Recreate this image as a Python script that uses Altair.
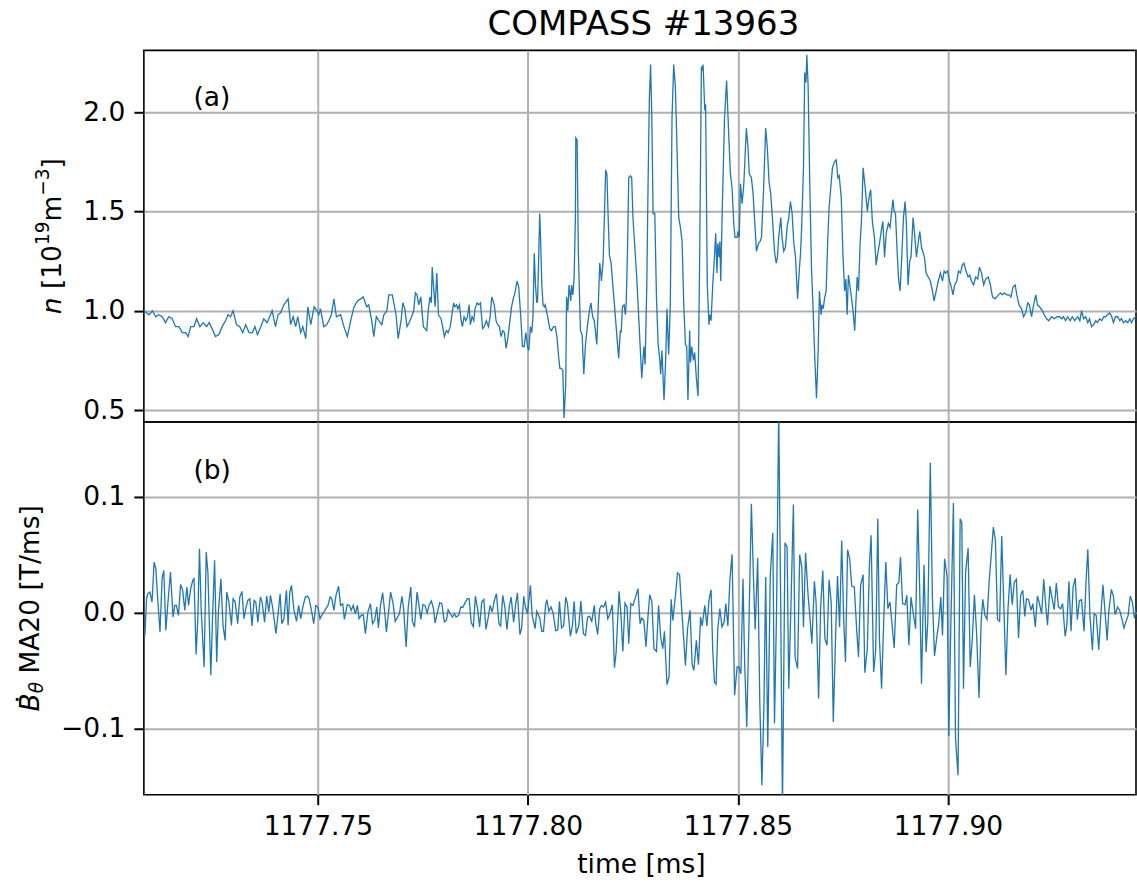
import altair as alt
import pandas as pd

# ---------------------------------------------------------------------------
# Signals, time in microseconds after 1177.70 ms
# ---------------------------------------------------------------------------
# (a) line-integrated density n [1e19 m^-3]
N_TIME_US = [
    8.6, 9.8, 10.6, 11.4, 12.1, 12.9, 13.7, 14.5, 15.3, 16.1, 16.9, 17.7, 18.5, 19.1, 19.7,
    20.5, 21.1, 21.9, 22.7, 23.5, 24.1, 24.8, 25.6, 26.4, 27.2, 28.0, 28.6, 29.2, 29.8, 30.6,
    31.4, 32.1, 32.8, 33.6, 34.4, 35.0, 35.6, 36.4, 37.1, 37.9, 38.7, 39.1, 39.9, 40.5, 41.1,
    41.9, 42.9, 43.5, 44.1, 44.7, 45.2, 45.9, 46.4, 47.1, 47.6, 48.3, 49.1, 49.8, 50.2, 50.6,
    51.4, 52.1, 52.6, 53.2, 53.8, 54.4, 55.4, 56.2, 57.0, 57.8, 58.6, 59.4, 60.2, 60.8, 61.6,
    62.1, 62.8, 63.3, 63.9, 64.5, 65.2, 65.7, 66.4, 66.9, 67.7,
    68.6, 69.1, 69.8, 70.2, 70.7, 71.2, 71.7, 72.3, 72.8, 73.2, 73.6, 74.0, 74.5, 75.1, 75.5,
    75.9, 76.3, 76.7, 77.0, 77.2, 77.5, 77.9, 78.3, 78.7, 79.3, 79.7, 80.1, 80.6, 81.0, 81.5,
    81.9, 82.3, 82.6, 83.0, 83.3, 83.7, 84.1, 84.4, 84.8, 85.2, 85.6, 86.0, 86.3, 86.7, 87.1,
    87.4, 87.9, 88.3, 88.7, 89.2, 89.6, 90.1, 90.6, 91.0, 91.4, 92.0, 92.4, 92.8, 93.2, 93.6,
    94.0, 94.4, 94.8, 95.2, 95.6, 96.1, 96.5, 96.9, 97.4, 97.8, 98.3, 98.7, 99.1, 99.5, 99.9,
    100.2, 100.6, 100.9, 101.2, 101.5, 101.8, 102.1, 102.3, 102.5, 102.8, 103.0, 103.3, 103.6,
    103.9, 104.1, 104.7, 105.2, 105.6, 106.1, 106.5, 106.9, 107.3, 107.6, 108.0, 108.3, 108.6,
    109.0, 109.2, 109.5, 109.8, 110.2, 110.4, 110.7, 111.0, 111.3, 111.4, 111.7, 112.0, 112.5,
    112.9, 113.3, 113.7, 114.2, 114.7, 115.0, 115.4, 115.8, 116.2, 116.4, 116.7, 117.1, 117.3,
    117.5, 117.9, 118.2, 118.5, 118.8, 119.1, 119.4, 119.8, 120.2, 120.6, 121.0, 121.6, 122.0,
    122.2, 122.5, 122.9, 123.2, 123.4, 123.7, 124.0, 124.4, 124.7, 125.0, 125.5, 125.9,
    126.6, 127.1, 127.6, 127.9, 128.3, 128.6, 128.9, 129.2, 129.5, 129.8, 130.2, 130.6, 131.0,
    131.4, 131.6, 131.9, 132.4, 132.8, 133.1, 133.5, 133.9, 134.3, 134.7, 135.1, 135.5, 135.9,
    136.3, 136.7, 137.1, 137.5, 137.8, 138.1, 138.5, 138.7, 139.0, 139.4, 139.7, 140.1, 140.5,
    140.9, 141.3, 141.5, 141.7, 142.1, 142.3, 142.7, 143.1, 143.3, 143.6, 144.0, 144.4, 144.7,
    145.0, 145.2, 145.5, 145.7, 145.9, 146.3, 146.8, 147.3, 147.8, 148.2, 148.6, 149.0, 149.3,
    149.8, 150.0, 150.3, 150.6, 151.0, 151.4, 152.0, 152.4, 152.7, 153.2, 153.6, 154.0, 154.4,
    154.9, 155.3, 155.6, 156.1, 156.6, 157.0, 157.4, 157.8, 158.3, 158.7, 159.1, 159.4, 159.7,
    160.2, 160.5, 160.9, 161.3, 161.7, 162.1, 162.5, 162.9, 163.3, 163.7, 164.2, 164.6, 164.9,
    165.2, 165.6, 165.9, 166.2, 166.4, 166.7, 167.1, 167.5, 167.9, 168.3, 168.7, 169.1, 169.4,
    169.8, 170.0, 170.3, 170.6, 171.0, 171.4, 171.7, 172.1, 172.5, 173.0, 173.4, 173.8, 174.1,
    174.6, 175.0, 175.4, 175.7, 176.0, 176.3, 176.7, 177.0, 177.4, 177.8, 178.1, 178.4, 178.7,
    179.1, 179.4, 179.8, 180.2, 180.5, 180.8, 181.2, 181.6, 182.0, 182.5, 182.9, 183.3, 183.7,
    184.1, 184.5, 184.9, 185.3,
    185.8, 186.2, 186.6, 186.9, 187.2, 187.5, 187.9, 188.2, 188.6, 189.0, 189.4, 189.8, 190.1,
    190.5, 190.9, 191.2, 191.7, 192.0, 192.5, 192.9, 193.3, 193.7, 194.4, 194.8, 195.3, 195.8,
    196.3, 196.7, 197.2, 197.7, 198.2, 198.7, 199.1, 199.4, 199.9, 200.4, 200.8, 201.2, 201.6,
    202.1, 202.5, 203.0, 203.4, 203.8, 204.3, 204.8, 205.2, 205.6, 206.1, 206.6, 207.1, 207.5,
    208.0, 208.5, 209.0, 209.6, 210.1, 210.6, 211.2, 212.0, 212.5, 212.9, 213.4, 214.0, 214.5,
    215.0, 215.5, 216.0, 216.4, 216.9, 217.5, 218.0, 218.5, 219.0, 219.4, 219.9, 220.4, 220.9,
    221.3, 221.8, 222.5, 222.9, 223.5, 224.0, 224.7, 225.3, 226.0, 226.6, 227.1, 227.5, 228.0,
    228.5, 229.1, 229.6, 230.2, 230.9, 231.4, 231.8, 232.3, 232.8, 233.3, 233.7, 234.2, 234.7,
    235.2, 235.6, 236.1, 236.6, 237.1, 237.5, 238.0, 238.5, 239.0, 239.4, 239.9, 240.4, 240.9,
    241.3, 241.8, 242.3, 242.8, 243.3, 243.7, 244.2, 244.7, 245.2,
]
N_VALUE = [
    1.00, 0.98, 1.00, 0.97, 0.98, 0.97, 0.94, 0.97, 0.96, 0.92, 0.92, 0.89, 0.89, 0.87, 0.92,
    0.92, 0.96, 0.92, 0.94, 0.92, 0.94, 0.91, 0.87, 0.88, 0.92, 0.95, 0.98, 0.97, 1.00, 0.93,
    0.92, 0.89, 0.93, 0.89, 0.89, 0.92, 0.88, 0.92, 0.96, 0.94, 0.98, 1.00, 0.92, 0.98, 0.99,
    1.03, 1.06, 0.93, 0.97, 0.92, 0.97, 0.89, 0.92, 0.86, 1.02, 0.93, 1.02, 1.00, 0.98, 1.01,
    0.92, 0.93, 0.95, 0.98, 1.06, 0.97, 0.98, 0.92, 0.87, 0.95, 1.02, 1.05, 1.06, 1.07, 1.02,
    1.03, 0.95, 0.87, 0.97, 0.95, 0.93, 0.98, 1.00, 1.08, 1.08,
    0.98, 0.86, 0.95, 1.04, 1.01, 0.92, 0.94, 0.97, 1.00, 1.09, 1.08, 1.03, 1.07, 0.92, 0.91,
    0.90, 1.01, 1.07, 1.04, 1.22, 1.13, 1.02, 1.19, 0.98, 0.96, 0.92, 0.87, 0.90, 0.89, 0.92,
    0.98, 1.04, 1.02, 1.03, 1.01, 1.03, 0.95, 0.92, 0.97, 0.95, 0.97, 1.03, 0.93, 0.97, 0.95,
    1.01, 1.04, 1.03, 1.04, 0.91, 0.92, 0.95, 0.92, 0.97, 1.07, 1.03, 0.95, 0.93, 0.92, 0.87,
    0.90, 0.89, 0.81, 0.86, 0.93, 1.02, 1.06, 1.09, 1.15, 1.12, 0.97, 0.82, 0.82, 0.89, 0.82,
    0.80, 0.92, 0.89, 0.97, 1.29, 1.13, 1.04, 1.05, 1.22, 1.49, 1.37, 1.13, 1.03,
    1.02, 1.03, 0.97, 0.91, 0.90, 0.92, 0.92, 0.87, 0.77, 0.71, 0.71, 0.70, 0.46,
    0.63, 1.07, 1.00, 1.13, 1.05, 1.13, 1.08, 1.17, 1.47, 1.87, 1.86, 1.30, 0.90,
    0.88, 0.68, 0.83, 0.93, 1.01, 1.04, 0.97, 0.95, 0.87, 0.83, 1.00, 1.24, 1.20,
    1.15, 1.25, 1.47, 1.71, 1.69, 1.47, 1.28, 1.24, 1.13, 1.03, 0.92, 0.76, 0.90,
    0.89, 1.02, 1.03, 0.98, 1.04, 1.30, 1.67, 1.68, 1.67, 1.47, 1.30, 1.17,
    0.87, 0.66, 0.82, 0.73, 1.13, 1.64, 2.06, 2.24, 1.97, 1.49, 1.49, 1.07, 0.83,
    0.75, 0.68, 0.80, 0.55, 0.76, 1.01, 0.78, 1.03, 1.97, 2.24, 2.13, 1.81, 1.47,
    1.42, 1.35, 1.03, 0.83, 0.82, 0.55, 0.90, 0.74, 0.82, 0.75, 0.79, 0.66, 0.57,
    1.30, 2.23, 2.21, 2.24, 2.01, 2.04, 1.13, 0.93, 0.98, 0.95, 1.13, 1.27, 1.39,
    1.19, 1.34, 1.27, 1.35, 1.15, 1.54, 1.97, 2.16, 1.89, 1.69, 1.62, 1.44, 1.37,
    1.37, 1.40, 1.37, 1.64, 1.54, 1.64, 1.92, 1.82, 1.69, 1.67, 1.59, 1.45, 1.30,
    1.34, 1.35, 1.37, 1.61, 1.92, 1.82, 1.65, 1.59, 1.44, 1.30, 1.24, 1.27, 1.37,
    1.47, 1.37, 1.30, 1.32, 1.42, 1.47, 1.55, 1.49, 1.34, 1.27, 1.06, 1.20, 1.29,
    1.44, 1.72, 2.20, 2.15, 2.29, 2.14, 1.64, 1.22, 1.00, 0.76, 0.56, 0.80, 1.10,
    0.98, 1.03, 1.01, 1.06, 1.10, 1.37, 1.52, 1.62, 1.72, 1.75, 1.76, 1.67, 1.68,
    1.57, 1.28, 1.10, 1.16, 0.98, 1.18, 1.12, 1.07, 1.00, 0.90, 1.05, 1.17, 1.10,
    1.35, 1.45, 1.72, 1.64, 1.57, 1.50, 1.57, 1.61, 1.45, 1.37, 1.23, 1.29, 1.34,
    1.40, 1.45, 1.27, 1.39,
    1.44, 1.42, 1.50, 1.56, 1.50, 1.49, 1.30, 1.17, 1.10, 1.27, 1.47, 1.55, 1.44,
    1.13, 1.25, 1.27, 1.47, 1.40, 1.27, 1.34, 1.40, 1.32, 1.27, 1.19, 1.17, 1.15,
    1.10, 1.05, 1.10, 1.15, 1.19, 1.15, 1.20, 1.19, 1.20, 1.15, 1.12, 1.08, 1.13,
    1.15, 1.20, 1.19, 1.23, 1.24, 1.20, 1.17, 1.18, 1.15, 1.13, 1.17, 1.16, 1.22,
    1.19, 1.13, 1.16, 1.17, 1.13, 1.07, 1.06, 1.08, 1.09, 1.08, 1.09, 1.08, 1.08,
    1.07, 1.12, 1.13, 1.08, 1.03, 1.01, 0.97, 0.99, 1.04, 1.03, 0.97, 1.03, 1.08,
    1.03, 1.02, 1.00, 0.98, 0.96, 0.95, 0.97, 0.96, 0.97, 0.97, 0.96, 0.97, 0.95,
    0.97, 0.95, 0.97, 0.95, 0.97, 0.95, 1.00, 0.96, 0.97, 0.94, 0.96, 0.92, 0.93,
    0.95, 0.94, 0.96, 0.95, 0.97, 0.97, 0.98, 0.99, 0.97, 0.94, 0.97, 0.97, 0.95,
    0.96, 0.94, 0.95, 0.94, 0.96, 0.94, 0.96, 0.97, 0.98,
]

# (b) poloidal field derivative, probe MA20 [T/ms]
B_TIME_US = [
    8.8, 9.2, 9.5, 10.0, 10.5, 11.0, 11.4, 11.9, 12.4, 12.9, 13.3, 13.8, 14.3, 14.9, 15.5,
    15.9, 16.3, 16.8, 17.3, 17.8, 18.3, 18.8, 19.2, 19.7, 20.2, 20.5, 21.0, 21.4, 21.8, 22.2,
    22.9, 23.4, 23.8, 24.5, 24.9, 25.4, 25.9, 26.3, 26.9, 27.4, 27.9, 28.3, 28.8, 29.4, 29.8,
    30.3, 30.9, 31.4, 31.9, 32.4, 32.9, 33.3, 33.8, 34.3, 34.8, 35.2, 35.7, 36.3, 36.7, 37.3,
    37.8, 38.3, 38.7, 39.2, 40.0, 40.6, 41.0, 41.4, 41.9, 42.5, 42.9, 43.3, 43.7, 44.3, 44.9,
    45.4, 45.9, 46.4, 47.0, 47.5, 47.9, 48.5, 49.0, 49.5, 50.0, 50.5, 50.9, 51.4, 51.9, 52.4,
    52.9, 53.3, 53.8, 54.3, 54.9, 55.4, 55.9, 56.3, 57.0, 57.5, 57.9, 58.4, 58.9, 59.4, 59.8,
    60.3, 60.8, 61.3, 61.9, 62.5, 63.0, 63.5, 64.0, 64.4, 64.9, 65.4, 65.9, 66.3, 66.9, 67.3,
    67.9, 68.4, 69.0, 69.4, 70.0, 70.4, 71.0, 71.5, 72.1, 72.5, 73.0, 73.6, 74.0, 74.5, 75.0,
    75.5, 76.0, 76.5, 77.0, 77.5, 77.9, 78.5, 79.0, 79.5, 80.1, 80.6, 81.0, 81.5, 82.0, 82.5,
    82.9, 83.5, 84.0, 84.5, 85.0, 85.6, 86.0, 86.5, 87.0, 87.5, 88.0, 88.5, 89.0, 89.5, 90.0,
    90.5, 91.0, 91.5, 92.0, 92.5, 93.1, 93.5, 94.0, 94.5, 95.0, 95.6, 96.0, 96.6, 97.1, 97.5,
    98.1, 98.5, 99.0, 99.4, 99.9, 100.6, 101.0, 101.7, 102.1, 102.8, 103.3, 103.7, 104.2,
    104.5, 105.0, 105.5, 106.0, 106.6, 107.1, 107.5, 108.0, 108.5, 109.0, 109.4, 110.1, 110.6,
    111.0, 111.5, 112.1, 112.6, 113.2, 113.7, 114.2, 114.7, 115.2, 115.8, 116.1, 116.6, 117.1,
    117.5, 118.0, 118.5, 119.0, 119.4, 120.1, 120.6, 121.0, 121.7, 122.1, 122.6, 123.1, 123.6,
    124.0, 124.5, 125.0, 125.6,
    126.2, 126.7, 127.1, 127.6, 128.1, 128.6, 129.0, 129.5, 130.0, 130.6, 131.1, 131.6, 132.1,
    132.5, 133.1, 133.6, 134.1, 134.5, 135.2, 135.6, 136.1, 136.6, 137.1, 137.5, 138.0, 138.6,
    139.1, 139.5, 140.1, 140.6, 141.1, 141.5, 142.1, 142.6, 143.1, 143.6, 144.0, 144.4, 144.8,
    145.2, 145.7, 146.2, 146.7, 147.1, 147.6, 148.1, 148.6, 149.2, 149.8, 150.2, 150.7, 151.2,
    151.6, 152.1, 152.6, 153.2, 153.7, 154.1, 154.7, 155.2, 155.7, 156.2, 156.6, 157.1, 157.7,
    158.3, 158.7, 159.2, 159.7, 160.2, 160.6, 161.2, 161.7, 162.1, 162.6, 163.2, 163.6, 164.2,
    164.7, 165.2, 165.6, 166.1, 166.7, 167.1, 167.6, 168.2, 168.6, 169.2, 169.7, 170.2, 170.7,
    171.2, 171.7, 172.2, 172.7, 173.3, 173.7, 174.2, 174.7, 175.2, 175.6, 176.1, 176.6, 177.1,
    177.7, 178.3, 178.7, 179.2, 179.8, 180.2, 180.8, 181.3, 181.7, 182.3, 182.8, 183.3, 183.7,
    184.2, 184.8, 185.2, 185.7,
    186.2, 186.7, 187.2, 187.8, 188.3, 188.7, 189.2, 189.8, 190.2, 190.7, 191.2, 191.7, 192.3,
    192.8, 193.3, 193.7, 194.3, 194.8, 195.2, 195.8, 196.3, 196.8, 197.3, 197.8, 198.3, 198.7,
    199.2, 199.8, 200.2, 200.7, 201.3, 201.8, 202.4, 202.9, 203.3, 203.7, 204.2, 204.8, 205.3,
    205.8, 206.3, 206.8, 207.4, 207.9, 208.3, 208.8, 209.3, 209.8, 210.3, 210.8, 211.3, 211.8,
    212.3, 212.8, 213.3, 213.8, 214.3, 214.8, 215.3, 215.8, 216.3, 216.8, 217.3, 217.8, 218.3,
    218.7, 219.2, 219.8, 220.2, 220.8, 221.3, 221.7, 222.3, 222.8, 223.3, 223.7, 224.3, 224.8,
    225.3, 225.8, 226.3, 226.8, 227.3, 227.9, 228.3, 228.8, 229.3, 229.8, 230.3, 230.8, 231.3,
    231.8, 232.4, 232.9, 233.3, 233.8, 234.4, 234.8, 235.3, 235.9, 236.4, 236.9, 237.4, 237.9,
    238.3, 238.9, 239.4, 239.8, 240.4, 240.9, 241.4, 241.9, 242.4, 242.9, 243.4, 243.9, 244.4,
    244.8, 245.2,
]
B_VALUE = [
    -0.0196, 0.0121, 0.0164, 0.0178, 0.0092, 0.0437, 0.0380, 0.0092, -0.0167, 0.0294, 0.0365,
    -0.0153, 0.0092, 0.0351, -0.0037, 0.0063, 0.0063, -0.0023, 0.0245, 0.0193, 0.0020, 0.0222,
    0.0063, 0.0207, 0.0279, 0.0294, -0.0360, -0.0052, 0.0553, 0.0035, -0.0469, 0.0524, 0.0351,
    -0.0541, -0.0052, 0.0452, -0.0426, 0.0006, 0.0294, -0.0109, -0.0239, 0.0178, 0.0092,
    -0.0109, 0.0121, 0.0092, -0.0095, 0.0135, 0.0184, -0.0052, 0.0049, 0.0106, 0.0121, -0.0115,
    0.0106, 0.0092, -0.0081, 0.0135, 0.0092, -0.0081, 0.0144, 0.0006, 0.0150, 0.0049, -0.0181,
    0.0020, 0.0164, -0.0095, -0.0052, 0.0193, -0.0109, 0.0178, 0.0236, 0.0020, -0.0075, 0.0063,
    -0.0052, 0.0049, 0.0135, 0.0144, 0.0121, 0.0012, -0.0095, 0.0063, 0.0049, -0.0052, -0.0023,
    0.0006, 0.0035, 0.0063, 0.0135, 0.0121, 0.0020, 0.0150, 0.0230, 0.0063, 0.0078, -0.0058,
    0.0069, 0.0063, 0.0020, 0.0063, -0.0009, 0.0063, -0.0052, -0.0023, -0.0017, -0.0181, 0.0006,
    0.0078, -0.0095, -0.0066, 0.0049, -0.0132, 0.0063, 0.0173, 0.0006, -0.0167, 0.0035, 0.0178,
    0.0078, -0.0075, -0.0037, -0.0009, 0.0141, 0.0035, -0.0296, 0.0049, 0.0222, -0.0075,
    -0.0124, 0.0178, 0.0078, -0.0058, 0.0069, 0.0063, -0.0003, 0.0069, 0.0101, 0.0035, -0.0089,
    0.0012, 0.0086, 0.0078, -0.0081, -0.0066, 0.0026, -0.0009, -0.0037, -0.0009, -0.0037,
    -0.0023, 0.0049, 0.0046, 0.0083, 0.0121, 0.0121, -0.0086, -0.0121, 0.0144, 0.0035, -0.0124,
    0.0092, 0.0115, -0.0144, -0.0052, 0.0063, 0.0006, 0.0106, 0.0164, -0.0095, -0.0115, 0.0150,
    0.0049, -0.0144, 0.0063, 0.0135, -0.0081, 0.0078, 0.0170, -0.0190, -0.0132, 0.0141, 0.0049,
    -0.0009, 0.0236, -0.0023, -0.0138, 0.0012, -0.0046, -0.0161, -0.0161, 0.0063, 0.0112,
    0.0012, 0.0049, -0.0003, -0.0155, -0.0150, 0.0098, -0.0132, -0.0115, 0.0135, 0.0078,
    -0.0204, -0.0109, 0.0098, -0.0181, -0.0115, 0.0101, -0.0181, -0.0196, -0.0037, -0.0032,
    -0.0075, 0.0063, -0.0081, -0.0187, 0.0035, 0.0063, 0.0049, 0.0092, -0.0052, -0.0023, 0.0069,
    -0.0475, -0.0340, 0.0184, 0.0006, -0.0334, 0.0083, 0.0049, -0.0268, 0.0078, 0.0063, 0.0135,
    0.0207, -0.0095, -0.0046, -0.0066, -0.0296, -0.0023, 0.0155, 0.0098, -0.0311, -0.0334,
    0.0063, -0.0210, -0.0311, -0.0161, -0.0622, -0.0555, 0.0115, -0.0066, 0.0178, 0.0345,
    0.0328, 0.0035, -0.0239, -0.0455, -0.0138, 0.0020, -0.0449, -0.0498, -0.0239, -0.0449,
    -0.0037, -0.0115, 0.0063, -0.0115, 0.0106, 0.0199, -0.0325, -0.0599, -0.0619, -0.0138,
    0.0035, -0.0124, -0.0081, 0.0078, -0.0115, 0.0294, 0.0504, -0.0714, -0.0469, -0.0469,
    -0.0527, 0.0294, -0.0440, -0.0987, -0.0138, 0.0941, 0.0294, -0.0144, 0.0472, -0.0771,
    -0.1491, -0.0771, 0.0308, -0.1160, 0.0322, 0.0691, -0.0958, 0.0035, 0.1750, -0.0023,
    -0.1700, 0.0604, 0.0567, -0.0656, 0.0035, 0.0935, -0.0383, -0.0483, 0.0501, 0.0394,
    -0.0124, 0.0518, 0.0150, -0.0023, -0.0268, 0.0271, 0.0092, -0.0742, 0.0049, 0.0365,
    -0.0224, -0.0282, 0.0285, 0.0092, -0.0944, -0.0138, 0.0317, -0.0124, 0.0624, -0.0081,
    -0.0426, 0.0544, 0.0466, 0.0230, 0.0222, -0.0167, -0.0383, 0.0236, 0.0328, -0.0518,
    -0.0311, 0.0409, 0.0668, -0.0512, -0.0325, 0.0812, -0.0239, -0.0656, 0.0035, 0.0437, 0.0035,
    0.0092, -0.0109, -0.0305, 0.0242, 0.0259, 0.0481, 0.0078, 0.0069, 0.0150, -0.0282, 0.0135,
    0.0006, -0.0138, 0.0892, 0.0150, -0.0613, 0.0414, -0.0340, -0.0081, 0.1295, 0.0121,
    -0.0374, -0.0224, -0.0095, 0.0135, -0.0196, 0.0466, 0.0308, -0.1065, -0.0081, 0.0947,
    -0.1088, -0.1405, 0.0812, 0.0777, -0.0656, 0.0351, 0.0558, -0.0469, -0.0224, 0.0155,
    -0.0167, -0.0737, -0.0081, 0.0115, -0.0023, -0.0058, 0.0265, 0.0495, 0.0740, 0.0624,
    -0.0058, -0.0075, 0.0662, 0.0063, -0.0541, 0.0035, 0.0331, 0.0069, 0.0265, 0.0288, -0.0219,
    0.0150, 0.0193, -0.0032, 0.0121, 0.0112, 0.0020, 0.0078, -0.0124, 0.0144, 0.0092, -0.0009,
    0.0288, 0.0058, -0.0109, 0.0230, 0.0121, 0.0026, 0.0256, 0.0049, 0.0035, 0.0078, -0.0204,
    -0.0109, 0.0271, -0.0161, 0.0222, 0.0299, -0.0060, 0.0106, 0.0112, -0.0161, 0.0294, 0.0547,
    -0.0023, -0.0325, -0.0009, -0.0023, -0.0319, -0.0017, 0.0242, 0.0006, -0.0239, 0.0012,
    0.0201, 0.0141, -0.0017, 0.0049, 0.0020, -0.0052, -0.0132, -0.0075, -0.0023, 0.0144, 0.0092,
    -0.0046, 0.0026, 0.0049,
]

T0_MS = 1177.70
X_TICKS = [1177.75, 1177.80, 1177.85, 1177.90]
X_DOMAIN = [1177.70856, 1177.94477]
N_TICKS = [0.5, 1.0, 1.5, 2.0]
N_DOMAIN = [0.4396, 2.312]
B_TICKS = [-0.1, 0.0, 0.1]
B_DOMAIN = [-0.15723, 0.16474]

TITLE = "COMPASS #13963"
X_TITLE = "time [ms]"

# ---------------------------------------------------------------------------
# Styling
# ---------------------------------------------------------------------------
FONT = "DejaVu Sans"
FS = 26.5          # axis / annotation text
FS_TITLE = 34
FS_SCRIPT = 0.7 * FS
BLUE = "#1f77b4"
GRID = "#b0b0b0"
W = 993
H_TOP = 372
H_BOT = 373

# DejaVu Sans advance widths (em) used to lay out the composite axis titles
ADV = {"n": 0.634, "m": 0.974, " ": 0.318, "[": 0.390, "]": 0.390, "0": 0.636,
       "1": 0.636, "2": 0.636, "3": 0.636, "9": 0.636, "\u2212": 0.838, "B": 0.686,
       "\u03b8": 0.612, "M": 0.863, "A": 0.684, "T": 0.611, "/": 0.337, "s": 0.521}


def advance(s, size):
    return sum(ADV[c] for c in s) * size


def text_layer(text, x, y, size=FS, italic=False, angle=None, align="left"):
    props = dict(font=FONT, fontSize=size, color="black", align=align,
                 baseline="alphabetic")
    if italic:
        props["fontStyle"] = "italic"
    if angle is not None:
        props["angle"] = angle
    return alt.Chart(pd.DataFrame({"label": [text]})).mark_text(**props).encode(
        x=alt.value(x), y=alt.value(y), text="label:N")


def vertical_title(segments, center_y, base_x):
    """Rotated (bottom-to-top) title built from differently styled pieces.
    segments: (text, size, italic, raise_px). Leading blanks become a gap,
    since text values are trimmed when drawn. Returns layers and start offsets."""
    total = sum(advance(t, s) for t, s, _, _ in segments)
    y = center_y + total / 2
    layers, starts = [], []
    for t, s, it, rise in segments:
        body = t.lstrip(" ")
        y0 = y - advance(t[: len(t) - len(body)], s)
        layers.append(text_layer(body, base_x - rise, y0, size=s, italic=it, angle=270))
        starts.append(y0)
        y -= advance(t, s)
    return layers, starts


n_df = pd.DataFrame({"time": [T0_MS + u / 1000 for u in N_TIME_US], "n": N_VALUE})
b_df = pd.DataFrame({"time": [T0_MS + u / 1000 for u in B_TIME_US], "b": B_VALUE})

x_scale = alt.Scale(domain=X_DOMAIN, nice=False, zero=False)

# ---------------------------------------------------------------------------
# Panel (a)
# ---------------------------------------------------------------------------
line_top = alt.Chart(n_df).mark_line(color=BLUE, strokeWidth=1.3, clip=True).encode(
    x=alt.X("time:Q", scale=x_scale,
            axis=alt.Axis(values=X_TICKS, labels=False, ticks=False, title=None)),
    y=alt.Y("n:Q", scale=alt.Scale(domain=N_DOMAIN, nice=False, zero=False),
            axis=alt.Axis(values=N_TICKS, format=".1f", title=None)),
)

# keeps the figure origin at the outer corner of the page
frame_anchor = alt.Chart(pd.DataFrame({"k": [0]})).mark_rule(
    color="white", strokeWidth=1).encode(
    x=alt.value(-142.5), y=alt.value(-48.5), y2=alt.value(0))

top_title_layers, _ = vertical_title(
    [("n", FS, True, 0), (" [10", FS, False, 0), ("19", FS_SCRIPT, False, 12),
     ("m", FS, False, 0), ("\u22123", FS_SCRIPT, False, 12), ("]", FS, False, 0)],
    center_y=H_TOP / 2, base_x=-83)

top = alt.layer(
    line_top,
    frame_anchor,
    text_layer(TITLE, 500, -15, size=FS_TITLE, align="center"),
    text_layer("(a)", 49.6, 56, size=FS),
    *top_title_layers,
).properties(width=W, height=H_TOP)

# ---------------------------------------------------------------------------
# Panel (b)
# ---------------------------------------------------------------------------
line_bot = alt.Chart(b_df).mark_line(color=BLUE, strokeWidth=1.3, clip=True).encode(
    x=alt.X("time:Q", scale=x_scale,
            axis=alt.Axis(values=X_TICKS, format=".2f", title=None)),
    y=alt.Y("b:Q", scale=alt.Scale(domain=B_DOMAIN, nice=False, zero=False),
            axis=alt.Axis(values=B_TICKS, format=".1f", title=None)),
)

bot_base_x = -105
bot_title_layers, bot_starts = vertical_title(
    [("B", FS, True, 0), ("\u03b8", FS_SCRIPT, True, -4),
     (" MA20 [T/ms]", FS, False, 0)],
    center_y=H_BOT / 2, base_x=bot_base_x)

# time-derivative dot over the italic B
dot = alt.Chart(pd.DataFrame({"k": [0]})).mark_circle(
    color="black", opacity=1, size=10).encode(
    x=alt.value(bot_base_x - (0.729 * FS + 2.5)),
    y=alt.value(bot_starts[0] - advance("B", FS) / 2 - 3))

bottom = alt.layer(
    line_bot,
    text_layer("(b)", 49.6, 56.6, size=FS),
    text_layer(X_TITLE, 498, 451, size=FS, align="center"),
    dot,
    *bot_title_layers,
).properties(width=W, height=H_BOT)

chart = alt.vconcat(top, bottom, spacing=0, bounds="flush").properties(
    padding={"left": 0, "top": 0, "right": 0, "bottom": 0},
    background="white",
).configure_view(
    stroke="black", strokeWidth=1.6,
).configure_axis(
    labelFont=FONT, labelFontSize=FS, labelColor="black",
    tickColor="black", tickWidth=2, tickSize=10,
    domain=False, grid=True, gridColor=GRID, gridWidth=2,
    labelPadding=9, labelFlush=False, labelOverlap=False,
)

chart.save("out.html", embed_options={"renderer": "svg", "actions": False})
